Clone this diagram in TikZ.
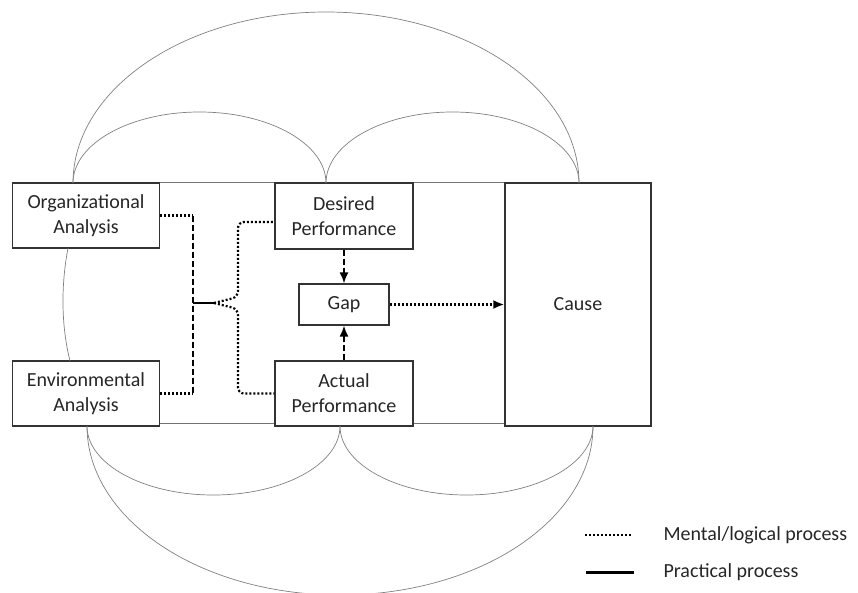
\documentclass[tikz,border=0pt]{standalone}
\usepackage{fontspec}
\setmainfont{Carlito}
\usetikzlibrary{arrows.meta,calc}

\tikzset{
  box/.style={draw=black!80, line width=1.2pt, align=center, inner sep=0pt,
    text=black!85, font=\fontsize{20}{25}\selectfont},
  link/.style={draw=black!55, line width=1pt},
  loopline/.style={draw=black!50, line width=0.7pt},
  mental/.style={line width=2.2pt, dash pattern=on 2pt off 2pt},
  dashline/.style={line width=1.8pt, dash pattern=on 6pt off 3pt},
  tip/.style={-{Latex[length=11pt,width=9pt]}},
  legend/.style={anchor=west, text=black!85, font=\fontsize{20}{25}\selectfont}
}

\begin{document}
\begin{tikzpicture}[x=1pt,y=-1pt]
  \useasboundingbox (0,0) rectangle (858,592);

  % boxes
  \node[box, minimum width=147pt, minimum height=65pt] (org) at (86,215.5) {Organizational\\Analysis};
  \node[box, minimum width=147pt, minimum height=65pt] (env) at (86,393.5) {Environmental\\Analysis};
  \node[box, minimum width=138pt, minimum height=66pt] (des) at (344,216) {Desired\\Performance};
  \node[box, minimum width=138pt, minimum height=65pt] (act) at (344,393.5) {Actual\\Performance};
  \node[box, minimum width=90pt, minimum height=41pt] (gap) at (344,304.5) {Gap};
  \node[box, minimum width=146pt, minimum height=243pt] (cause) at (578,304.5) {Cause};

  % frame lines
  \draw[link] (org.north east) -- (des.north west) (des.north east) -- (cause.north west);
  \draw[link] ($(env.south east)+(0,-3)$) -- ($(act.south west)+(0,-3)$)
    ($(act.south east)+(0,-3)$) -- ($(cause.south west)+(0,-3)$);

  % arcs above
  \draw[loopline] (73,183) arc[start angle=180, end angle=360, x radius=126.5, y radius=71];
  \draw[loopline] (326,183) arc[start angle=180, end angle=360, x radius=126.5, y radius=71];
  \draw[loopline] (73,183) arc[start angle=180, end angle=360, x radius=253, y radius=171];
  % arcs below
  \draw[loopline] (87,426) arc[start angle=180, end angle=0, x radius=126.5, y radius=69];
  \draw[loopline] (340,426) arc[start angle=180, end angle=0, x radius=126.5, y radius=69];
  \draw[loopline] (87,426) arc[start angle=180, end angle=0, x radius=253, y radius=169];
  \draw[loopline] (68,248) .. controls (61,285) and (61,325) .. (70,361);

  % analysis to performance
  \coordinate (hub) at (193,303);
  \coordinate (knee) at (214,303);
  \draw[mental] (org.east) -- (hub |- org.east);
  \draw[dashline] (hub |- org.east) -- (hub |- env.east);
  \draw[mental] (env.east) -- (hub |- env.east);
  \draw[line width=2pt] (hub) -- (knee);
  \draw[mental, rounded corners=6pt] (knee) -- (238,297) -- (238,222) -- ($(des.west)+(0,6)$);
  \draw[mental, rounded corners=6pt] (knee) -- (238,309) -- (238,393.5) -- (act.west);

  % gap
  \draw[dashline, tip] (des.south) -- (gap.north);
  \draw[dashline, tip] (act.north) -- (gap.south);
  \draw[mental, tip] (gap.east) -- (cause.west);

  % legend
  \node[legend] (lgm) at (660,535) {Mental/logical process};
  \node[legend] (lgp) at (660,572) {Practical process};
  \coordinate (lm1) at (585,535);
  \coordinate (lm2) at (632,535);
  \coordinate (lp1) at (586,572);
  \coordinate (lp2) at (634,572);
  \draw[mental, line width=1.8pt] (lm1) -- (lm2);
  \draw[line width=3pt] (lp1) -- (lp2);
\end{tikzpicture}
\end{document}
